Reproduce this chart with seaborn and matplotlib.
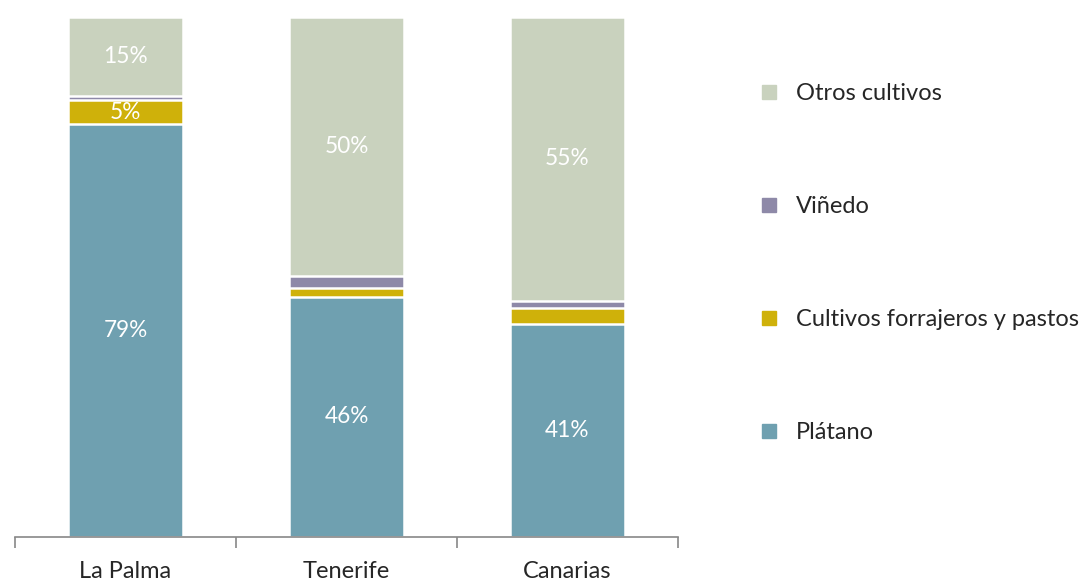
import numpy as np
import pandas as pd
import matplotlib
matplotlib.use("Agg")
import matplotlib.pyplot as plt
import seaborn as sns
from matplotlib.lines import Line2D

# ===== Data =====
regiones = ["La Palma", "Tenerife", "Canarias"]
series = ["Plátano", "Cultivos forrajeros y pastos", "Viñedo", "Otros cultivos"]
platano = [79.4, 46.2, 41.0]
forrajeros = [4.6, 1.7, 3.1]
vinedo = [0.9, 2.3, 1.3]
otros = [15.1, 49.8, 54.6]
colores = ["#6FA0B0", "#CFB10A", "#8E89A8", "#C9D2BE"]

valores = [platano, forrajeros, vinedo, otros]
df = pd.DataFrame({s: v for s, v in zip(series, valores)}, index=regiones)
cum = df.cumsum(axis=1)

sns.set_theme(style="white")
plt.rcParams["font.family"] = ["Lato", "DejaVu Sans"]

fig = plt.figure(figsize=(10.91, 5.81), dpi=100)
ax = fig.add_axes([15 / 1091, 44 / 581, 663 / 1091, 520 / 581])

# draw cumulative bars from the top segment down so each one covers the rest
for s, c in reversed(list(zip(series, colores))):
    d = pd.DataFrame({"region": regiones, "valor": cum[s].values})
    sns.barplot(data=d, x="region", y="valor", color=c, width=0.52,
                edgecolor="white", linewidth=1.8, saturation=1, ax=ax, zorder=2)

# labels for the bigger segments
for i, r in enumerate(regiones):
    base = 0
    for s in series:
        v = df.loc[r, s]
        if v >= 4.5:
            ax.text(i, base + v / 2, f"{v:.0f}%", ha="center", va="center",
                    color="white", fontsize=16.3)
        base += v

ax.set_ylim(0, 100)
ax.set_xlim(-0.5, 2.5)
ax.set_xlabel("")
ax.set_ylabel("")
ax.set_yticks([])
for sp in ["left", "right", "top"]:
    ax.spines[sp].set_visible(False)
ax.spines["bottom"].set_color("#888888")
ax.spines["bottom"].set_linewidth(1.2)
ax.set_xticks(range(len(regiones)))
ax.set_xticklabels(regiones, fontsize=17)
ax.tick_params(axis="x", which="major", bottom=True, length=0, pad=17)
ax.set_xticks([-0.5, 0.5, 1.5, 2.5], minor=True)
ax.tick_params(axis="x", which="minor", bottom=True, length=8, width=1.2,
               color="#888888", direction="out")

handles = [Line2D([0], [0], marker="s", linestyle="", markersize=10,
                  markerfacecolor=c, markeredgecolor=c) for c in colores]
leg = fig.legend(handles[::-1], series[::-1], loc="upper left",
                 bbox_to_anchor=(745 / 1091, 1 - 74 / 581), frameon=False,
                 fontsize=17, labelspacing=3.89, handletextpad=0.55,
                 handlelength=1.2, borderaxespad=0)

fig.savefig("out.png", dpi=100)
